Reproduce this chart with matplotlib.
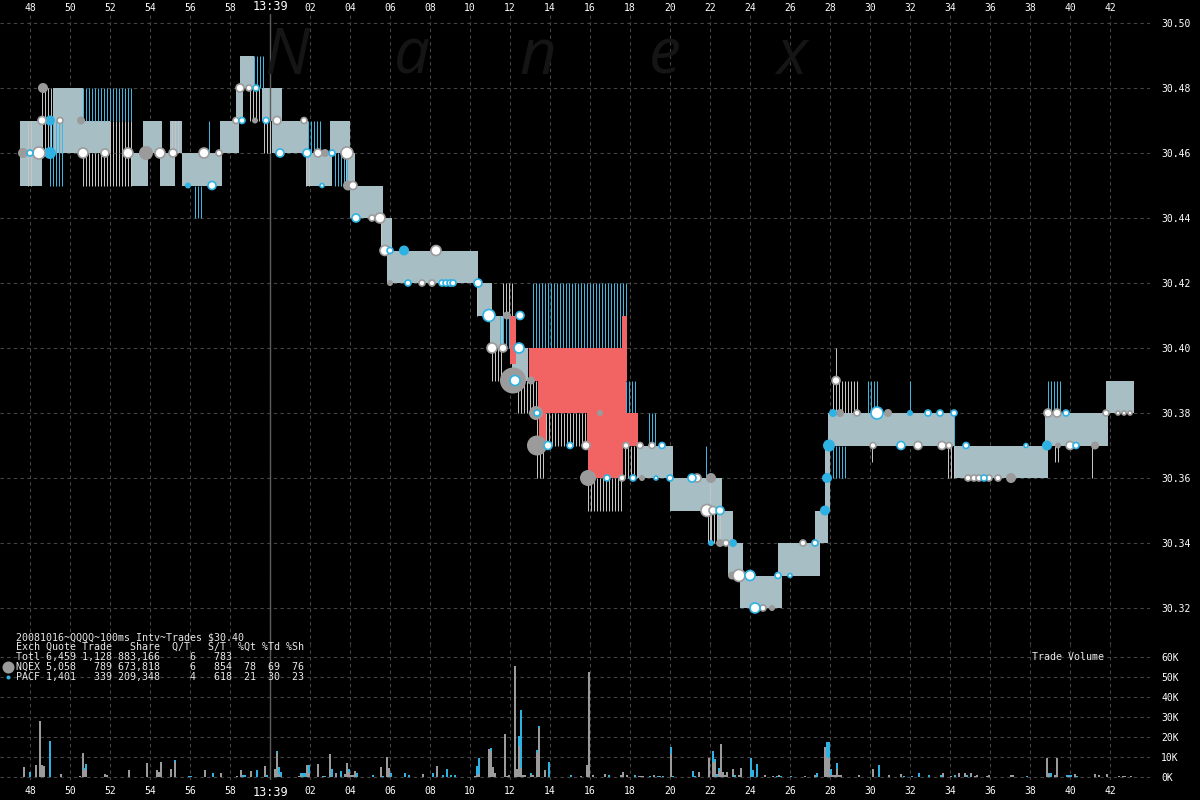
import numpy as np
import matplotlib.pyplot as plt

# time axis: seconds after 13:39:00
# quote segments (t0, t1, low, high)
quote_fill = [
    (-12.5, -11.4, 30.45, 30.47), (-10.85, -9.35, 30.46, 30.48), (-9.35, -8.0, 30.46, 30.47),
    (-6.9, -6.1, 30.45, 30.46), (-6.35, -5.4, 30.46, 30.47), (-5.5, -4.75, 30.45, 30.46),
    (-5.0, -4.4, 30.46, 30.47), (-4.4, -2.4, 30.45, 30.46), (-2.5, -1.55, 30.46, 30.47),
    (-1.7, -1.35, 30.47, 30.48), (-1.5, -0.8, 30.48, 30.49), (-0.4, 0.6, 30.47, 30.48),
    (0.1, 1.9, 30.46, 30.47), (3.0, 4.0, 30.46, 30.47), (1.8, 3.1, 30.45, 30.46),
    (3.8, 4.25, 30.45, 30.46), (4.0, 5.65, 30.44, 30.45), (5.6, 6.1, 30.43, 30.44),
    (5.85, 10.4, 30.42, 30.43), (10.35, 11.1, 30.41, 30.42), (11.0, 11.65, 30.40, 30.41),
    (12.1, 12.9, 30.39, 30.40), (18.4, 20.15, 30.36, 30.37), (20.0, 22.6, 30.35, 30.36),
    (22.4, 23.15, 30.34, 30.35), (22.9, 23.65, 30.33, 30.34), (23.5, 25.6, 30.32, 30.33),
    (25.4, 27.5, 30.33, 30.34), (27.25, 27.9, 30.34, 30.35), (27.75, 28.0, 30.35, 30.37),
    (27.9, 28.85, 30.37, 30.38), (28.85, 34.25, 30.37, 30.38), (34.2, 38.9, 30.36, 30.37),
    (38.75, 39.5, 30.37, 30.38), (39.5, 41.9, 30.37, 30.38), (41.8, 43.2, 30.38, 30.39),
]
quote_blue = [
    (-9.35, -6.9, 30.47, 30.48), (-3.75, -3.35, 30.44, 30.45), (-3.05, -2.95, 30.46, 30.47),
    (-0.8, -0.3, 30.48, 30.49), (1.9, 2.65, 30.46, 30.47), (3.25, 3.85, 30.45, 30.46),
    (-11.0, -10.3, 30.45, 30.47), (11.5, 12.1, 30.40, 30.41), (13.15, 17.8, 30.40, 30.42),
    (17.8, 18.4, 30.38, 30.39), (18.95, 19.4, 30.37, 30.38), (21.8, 21.85, 30.36, 30.37),
    (28.15, 28.85, 30.36, 30.37), (29.9, 30.4, 30.38, 30.39), (32.0, 32.15, 30.38, 30.39),
    (38.9, 39.5, 30.38, 30.39), (34.2, 34.25, 30.37, 30.38),
]
quote_white = [
    (-11.4, -10.85, 30.46, 30.48), (-12.1, -11.8, 30.45, 30.47), (-9.35, -6.9, 30.45, 30.46),
    (-8.0, -6.9, 30.46, 30.47), (-4.9, -4.5, 30.46, 30.47), (-1.0, -0.4, 30.47, 30.48),
    (-0.3, 0.1, 30.46, 30.47), (1.8, 2.0, 30.45, 30.46), (5.55, 5.65, 30.43, 30.44),
    (10.35, 10.45, 30.41, 30.42), (11.1, 11.65, 30.39, 30.40), (11.65, 12.25, 30.41, 30.42),
    (12.4, 13.35, 30.38, 30.39), (13.35, 13.75, 30.36, 30.38), (13.8, 15.8, 30.37, 30.38),
    (15.9, 17.55, 30.35, 30.36), (17.6, 18.4, 30.36, 30.37), (21.9, 22.5, 30.34, 30.35),
    (22.0, 22.05, 30.34, 30.36), (28.15, 29.4, 30.38, 30.39), (28.3, 28.35, 30.39, 30.40),
    (30.1, 30.2, 30.365, 30.37), (33.9, 34.25, 30.36, 30.37), (39.25, 39.5, 30.365, 30.37),
    (41.1, 41.15, 30.36, 30.37),
]
crossed = [
    (12.0, 12.3, 30.395, 30.41), (12.95, 17.8, 30.39, 30.40), (13.4, 17.8, 30.38, 30.39),
    (13.45, 13.8, 30.37, 30.38), (15.85, 18.4, 30.37, 30.38), (15.9, 17.65, 30.36, 30.37),
    (17.6, 17.85, 30.39, 30.41),
]

# trades (t, price, radius px, white centre)
nqex_trades = [
    (-11.35, 30.48, 5, 0), (-11.4, 30.47, 4, 1), (-10.5, 30.47, 3, 1), (-9.45, 30.47, 4, 0),
    (-12.35, 30.46, 5, 0), (-11.55, 30.46, 6, 1), (-9.35, 30.46, 5, 1), (-8.25, 30.46, 4, 1),
    (-7.1, 30.46, 5, 1), (-6.2, 30.46, 7, 0), (-5.5, 30.46, 5, 1), (-4.85, 30.46, 4, 1),
    (-3.3, 30.46, 5, 1), (-2.55, 30.46, 3, 1), (-1.5, 30.48, 4, 1), (-1.05, 30.48, 3, 1),
    (-1.7, 30.47, 3, 1), (-0.75, 30.47, 3, 0), (0.35, 30.47, 4, 1), (1.7, 30.47, 3, 1),
    (2.4, 30.46, 4, 1), (2.75, 30.46, 4, 0), (3.85, 30.46, 6, 1), (3.9, 30.45, 5, 0),
    (4.15, 30.45, 4, 1), (5.1, 30.44, 3, 1), (5.5, 30.44, 5, 1), (5.75, 30.43, 5, 1),
    (8.3, 30.43, 5, 1), (6.0, 30.42, 3, 0), (7.6, 30.42, 3, 1), (8.1, 30.42, 3, 1),
    (11.85, 30.41, 4, 0), (11.1, 30.40, 5, 1), (11.65, 30.40, 4, 1), (12.15, 30.39, 13, 0),
    (13.05, 30.39, 4, 0), (13.3, 30.38, 7, 0), (16.5, 30.38, 3, 0), (13.35, 30.37, 10, 0),
    (15.8, 30.37, 4, 1), (17.8, 30.37, 3, 1), (18.5, 30.37, 3, 1), (19.1, 30.37, 3, 1),
    (15.9, 30.36, 8, 0), (17.6, 30.36, 3, 1), (18.6, 30.36, 3, 0), (21.35, 30.36, 4, 1),
    (22.05, 30.36, 5, 0), (21.85, 30.35, 6, 1), (22.15, 30.35, 4, 1), (22.5, 30.34, 4, 0),
    (22.8, 30.34, 3, 1), (23.1, 30.33, 4, 0), (23.45, 30.33, 6, 1), (24.65, 30.32, 3, 1),
    (25.1, 30.32, 3, 0), (26.65, 30.34, 3, 1), (28.3, 30.39, 4, 1), (28.5, 30.38, 4, 0),
    (29.35, 30.38, 3, 1), (30.15, 30.37, 3, 1), (30.9, 30.38, 4, 0), (32.4, 30.37, 4, 1),
    (33.6, 30.37, 4, 1), (33.95, 30.37, 3, 1), (34.9, 30.36, 3, 1), (35.2, 30.36, 3, 1),
    (35.45, 30.36, 3, 1), (35.95, 30.36, 3, 1), (36.4, 30.36, 3, 1), (37.05, 30.36, 5, 0),
    (39.4, 30.37, 3, 0), (40.0, 30.37, 4, 1), (41.25, 30.37, 4, 0), (38.9, 30.38, 4, 1),
    (39.35, 30.38, 4, 1), (41.8, 30.38, 3, 1), (42.4, 30.38, 2, 1), (42.7, 30.38, 2, 1),
    (43.0, 30.38, 2, 1),
]
pacf_trades = [
    (-11.0, 30.47, 5, 0), (-12.0, 30.46, 3, 1), (-11.0, 30.46, 6, 0), (-4.1, 30.45, 3, 0),
    (-2.9, 30.45, 4, 1), (-0.7, 30.48, 3, 1), (-1.4, 30.47, 3, 1), (-0.2, 30.47, 3, 1),
    (0.5, 30.46, 4, 1), (1.85, 30.46, 4, 1), (3.1, 30.46, 3, 1), (2.6, 30.45, 2, 1),
    (4.3, 30.44, 4, 1), (6.0, 30.43, 3, 1), (6.7, 30.43, 5, 0), (6.9, 30.42, 3, 1),
    (8.6, 30.42, 3, 1), (8.8, 30.42, 3, 1), (9.0, 30.42, 3, 1), (9.15, 30.42, 3, 1),
    (10.4, 30.42, 4, 1), (10.95, 30.41, 6, 1), (12.5, 30.41, 4, 1), (12.45, 30.40, 5, 1),
    (12.25, 30.39, 5, 1), (13.35, 30.38, 3, 1), (13.9, 30.37, 4, 1), (15.0, 30.37, 3, 1),
    (19.6, 30.37, 3, 1), (16.85, 30.36, 3, 1), (18.15, 30.36, 3, 1), (19.3, 30.36, 2, 1),
    (20.0, 30.36, 3, 1), (21.1, 30.36, 4, 1), (22.5, 30.35, 4, 1), (22.05, 30.34, 3, 0),
    (23.15, 30.34, 4, 0), (24.0, 30.33, 5, 1), (25.4, 30.33, 3, 1), (26.0, 30.33, 2, 1),
    (24.25, 30.32, 5, 1), (27.25, 30.34, 3, 1), (27.75, 30.35, 5, 0), (27.85, 30.36, 5, 0),
    (27.95, 30.37, 6, 0), (28.15, 30.38, 4, 0), (30.35, 30.38, 6, 1), (32.0, 30.38, 3, 0),
    (32.9, 30.38, 3, 1), (33.5, 30.38, 3, 1), (34.2, 30.38, 3, 1), (31.55, 30.37, 4, 1),
    (34.8, 30.37, 3, 1), (37.8, 30.37, 2, 1), (38.85, 30.37, 5, 0), (40.3, 30.37, 3, 1),
    (39.8, 30.38, 3, 1), (35.7, 30.36, 3, 1),
]

# trade volume per 100ms interval, thousands of shares
vol_t = [-12.3, -12.0, -11.7, -11.5, -11.4, -11.3, -11.0, -10.45, -9.5, -9.35, -9.3, -9.2,
         -8.25, -8.15, -7.05, -6.15, -5.65, -5.55, -5.45, -4.95, -4.75, -4.65, -4.05, -3.95,
         -3.25, -2.85, -2.45, -1.65, -1.45, -1.35, -1.25, -0.95, -0.65, -0.25, -0.15, 0.25,
         0.35, 0.45, 0.55, 1.45, 1.55, 1.65, 1.75, 1.85, 1.95, 2.4, 2.65, 2.75, 3.0, 3.1,
         3.3, 3.55, 3.75, 3.85, 3.95, 4.05, 4.15, 4.25, 4.35, 5.15, 5.55, 5.65, 5.85, 5.95,
         6.05, 6.75, 6.95, 7.65, 8.15, 8.35, 8.65, 8.85, 9.05, 9.25, 10.25, 10.35, 10.45,
         10.95, 11.05, 11.15, 11.25, 11.75, 11.85, 11.95, 12.25, 12.35, 12.45, 12.55, 12.65,
         12.75, 13.05, 13.15, 13.35, 13.45, 13.75, 13.95, 15.05, 15.55, 15.85, 15.95, 16.15,
         16.75, 16.95, 17.55, 17.65, 17.85, 18.25, 18.45, 18.55, 18.65, 19.0, 19.2, 19.4,
         19.5, 19.65, 20.05, 20.15, 21.15, 21.25, 21.45, 21.95, 22.15, 22.25, 22.35, 22.45,
         22.55, 22.65, 22.75, 22.85, 23.15, 23.25, 23.45, 23.55, 24.05, 24.15, 24.35, 24.75,
         25.15, 25.35, 25.45, 25.55, 26.05, 26.75, 27.25, 27.35, 27.75, 27.85, 27.95, 28.05,
         28.15, 28.25, 28.35, 28.45, 28.55, 29.45, 30.15, 30.45, 30.95, 31.55, 31.7, 32.1,
         32.45, 32.95, 33.55, 33.65, 34.05, 34.25, 34.45, 34.75, 34.85, 35.05, 35.25, 35.35,
         35.85, 35.95, 37.05, 37.15, 37.85, 38.85, 38.95, 39.05, 39.25, 39.35, 39.85, 39.95,
         40.05, 40.25, 40.35, 41.25, 41.45, 41.85, 42.45, 42.65, 42.75, 43.05]
vol_nqex = [5.2, 0, 6.2, 28, 6.2, 5.3, 0, 1.7, 0.5, 12, 3.5, 4.0,
            1.7, 1.0, 3.7, 7.2, 3.7, 2.5, 7.7, 4.2, 7.5, 0, 0, 0,
            3.7, 0, 1.8, 0.3, 3.7, 0, 0, 2.8, 0, 5.3, 0, 4.2,
            12.2, 1.5, 0, 0.3, 1.0, 0, 0, 6.2, 2.0, 6.7, 0.7, 0, 11.7, 0,
            2.2, 0, 1.3, 7.2, 2.5, 1.2, 1.2, 3.2, 0, 0, 5.2, 0, 10.2, 4.7,
            0, 0, 0, 1.3, 0, 5.7, 0, 0, 0, 0, 0.3, 1.0, 1.5,
            14.2, 13.0, 5.2, 2.2, 21.7, 0.5, 1.2, 55.7, 4.2, 15.7, 4.7, 0.8,
            1.2, 1.2, 1.2, 12.2, 24.5, 3.7, 0, 0, 0.3, 6.2, 52.7, 0.8,
            1.7, 0, 1.0, 2.7, 0.8, 0, 0.5, 0.5, 0.5, 0, 0.8, 0,
            0.5, 0, 11.7, 0, 0, 0, 2.7, 9.7, 7.5, 7.7, 0, 3.0,
            16.7, 2.5, 1.2, 2.7, 4.2, 0, 1.2, 4.7, 0, 0, 0, 1.2,
            0.3, 0, 1.2, 0, 0, 0.3, 1.2, 0, 15.2, 10.0, 9.5, 1.2,
            1.0, 1.0, 4.0, 0.8, 0.8, 1.2, 4.2, 0, 0.8, 1.7, 0, 0,
            0, 0, 0, 2.2, 0.3, 0, 2.2, 2.2, 0, 2.2, 0.5, 1.2,
            0.3, 1.2, 0.8, 0.8, 0, 9.5, 1.5, 0, 1.0, 9.5, 0, 0.4,
            0, 1.7, 0, 1.7, 0.8, 1.7, 0.5, 0.3, 0.3, 0.3]
vol_pacf = [0, 2.3, 0, 0, 0, 0, 18, 0, 0, 0, 1.0, 2.7,
            0, 0, 0, 0, 0, 0, 0, 0, 1.2, 0.2, 0.3, 0.3,
            0, 1.8, 0, 0, 0, 0.8, 0.8, 0, 3.3, 0, 0.8, 0,
            1.0, 3.7, 2.7, 0, 0.8, 1.8, 1.8, 0, 4.2, 0, 0, 0.7, 0, 4.2,
            0, 3.2, 0, 0, 1.7, 0, 0, 0, 2.2, 0.8, 0, 0.3, 0, 0,
            2.2, 1.8, 0.8, 0, 1.8, 0, 0.8, 4.2, 0.8, 0.8, 0, 4.7, 8.2,
            0, 1.7, 0, 0, 0, 0, 0, 0, 0, 5.0, 29.0, 0,
            0, 1.0, 0, 1.5, 1.2, 0, 7.7, 0.8, 0, 0, 0, 0,
            0, 1.2, 0, 0, 0, 0.8, 0, 0, 0, 0.3, 0, 0.5,
            0, 0.5, 3.5, 0.3, 3.2, 0.3, 0, 0, 5.7, 1.5, 1.7, 1.7,
            0, 0, 0, 0, 0, 0.8, 0, 0, 9.7, 3.7, 6.7, 0,
            0, 0.3, 0, 0.3, 0.3, 0, 0, 2.2, 0, 7.7, 8.2, 3.0,
            0, 0, 3.2, 0, 0, 0, 0, 6.2, 0, 0, 0.3, 0.3,
            2.2, 0.8, 0.8, 0, 0, 0.8, 0, 0, 0.8, 0, 0, 0,
            0, 0, 0, 0, 0.3, 0, 0.3, 1.8, 0, 0, 1.0, 0.4,
            0.8, 0, 0.3, 0, 0, 0, 0, 0, 0, 0]

summary = [
    "20081016~QQQQ~100ms Intv~Trades $30.40",
    "Exch Quote Trade   Share  Q/T   S/T  %Qt %Td %Sh",
    "Totl 6,459 1,128 883,166     6   783",
    "NQEX 5,058   789 673,818     6   854  78  69  76",
    "PACF 1,401   339 209,348     4   618  21  30  23",
]

GRAY = '#9b9b9b'
BLUE = '#2eb2e4'
BAND = '#a8bec5'
STRIPE_B = '#3fb6e0'
STRIPE_W = '#c4c4c4'
RED = '#f26464'
MONO = 'DejaVu Sans Mono'

W, H = 1200, 800
fig = plt.figure(figsize=(12, 8), dpi=100, facecolor='black')
right = 1150 / W
ax = fig.add_axes([0, 1 - 645 / H, right, (645 - 14) / H], facecolor='black')
axv = fig.add_axes([0, 1 - 780 / H, right, (780 - 645) / H], facecolor='black', sharex=ax)

# watermark
for letter, xpix in zip("Nanex", [287, 412, 538, 665, 792]):
    fig.text(xpix / W, 1 - 74 / H, letter, fontsize=46, style='italic', color='#151515',
             family=['Open Sans', 'DejaVu Sans'], ha='center', va='baseline', zorder=0)


def stripes(a, t0, t1, lo, hi, color, step):
    xs = np.arange(t0, t1, step)
    a.vlines(xs, lo, hi, colors=color, linewidth=0.72, zorder=2)


for t0, t1, lo, hi in quote_fill:
    ax.bar(t0, hi - lo, width=t1 - t0, bottom=lo, align='edge', color=BAND, linewidth=0, zorder=1)
for t0, t1, lo, hi in quote_blue:
    stripes(ax, t0, t1, lo, hi, STRIPE_B, 0.15)
for t0, t1, lo, hi in quote_white:
    stripes(ax, t0, t1, lo, hi, STRIPE_W, 0.15)
for t0, t1, lo, hi in crossed:
    ax.bar(t0, hi - lo, width=t1 - t0, bottom=lo, align='edge', color=RED, linewidth=0, zorder=3)


def draw_trades(trades, color):
    t = np.array([r[0] for r in trades])
    p = np.array([r[1] for r in trades])
    rad = np.array([r[2] for r in trades], dtype=float)
    white = np.array([r[3] for r in trades], dtype=bool)
    size = (1.44 * rad) ** 2
    ax.scatter(t[~white], p[~white], s=size[~white], color=color, linewidths=0, zorder=4)
    ax.scatter(t[white], p[white], s=size[white], facecolor='white', edgecolor=color,
               linewidths=1.2, zorder=5)


draw_trades(nqex_trades, GRAY)
draw_trades(pacf_trades, BLUE)

# volume bars
vt = np.array(vol_t)
vn = np.array(vol_nqex)
vp = np.array(vol_pacf)
axv.bar(vt, vn, width=0.14, color=GRAY, linewidth=0, zorder=2)
axv.bar(vt, vp, width=0.14, bottom=vn, color=BLUE, linewidth=0, zorder=2)

# axes limits (pixel calibrated)
ax.set_xlim(-13.5, 44.0)
ax.set_ylim(30.50 - 622 / 3250, 30.50 + 9 / 3250)
axv.set_ylim(-1.5, 66)

ticks = np.arange(-12, 43, 2)
labels = ['13:39' if t == 0 else '%02d' % (t % 60) for t in ticks]

for a in (ax, axv):
    for s in a.spines.values():
        s.set_visible(False)
    a.grid(True, color='#454545', linestyle=(0, (3, 3)), linewidth=0.8)
    a.set_axisbelow(True)
    a.axvline(0, color='#5c5c5c', linewidth=1.0, zorder=1.5)
    a.yaxis.tick_right()
    a.tick_params(length=0, colors='white', labelsize=7)

ax.xaxis.tick_top()
ax.set_xticks(ticks)
ax.set_xticklabels(labels, fontfamily=MONO)
ax.tick_params(axis='x', pad=1)
ax.set_yticks(np.round(np.arange(30.32, 30.505, 0.02), 2))
ax.set_yticklabels(['%.2f' % v for v in np.arange(30.32, 30.505, 0.02)], fontfamily=MONO)
ax.tick_params(axis='y', pad=8)

axv.set_xticks(ticks)
axv.tick_params(axis='x', labelbottom=True, labeltop=False, pad=4)
axv.set_xticklabels(labels, fontfamily=MONO)
axv.set_yticks(np.arange(0, 61, 10))
axv.set_yticklabels(['%dK' % v for v in range(0, 61, 10)], fontfamily=MONO)
axv.tick_params(axis='y', pad=8)
for a in (ax, axv):
    for lab in a.get_xticklabels():
        if lab.get_text() == '13:39':
            lab.set_fontsize(8.5)

# summary table
for i, line in enumerate(summary):
    fig.text(16 / W, 1 - (637 + 10 * i) / H, line, fontfamily=MONO, fontsize=7.2,
             color='#e8e8e8', va='center', ha='left')
fig.text(1032 / W, 1 - 657 / H, 'Trade Volume', fontfamily=MONO, fontsize=7.2,
         color='#e8e8e8', va='center', ha='left')
leg = fig.add_axes([0, 0, 1, 1], facecolor='none')
leg.set_xlim(0, W)
leg.set_ylim(H, 0)
leg.axis('off')
leg.scatter([8], [667], s=(1.44 * 6) ** 2, color=GRAY, linewidths=0)
leg.scatter([8], [677], s=(1.44 * 2) ** 2, color=BLUE, linewidths=0)

fig.savefig('out.png', dpi=100, facecolor='black')
